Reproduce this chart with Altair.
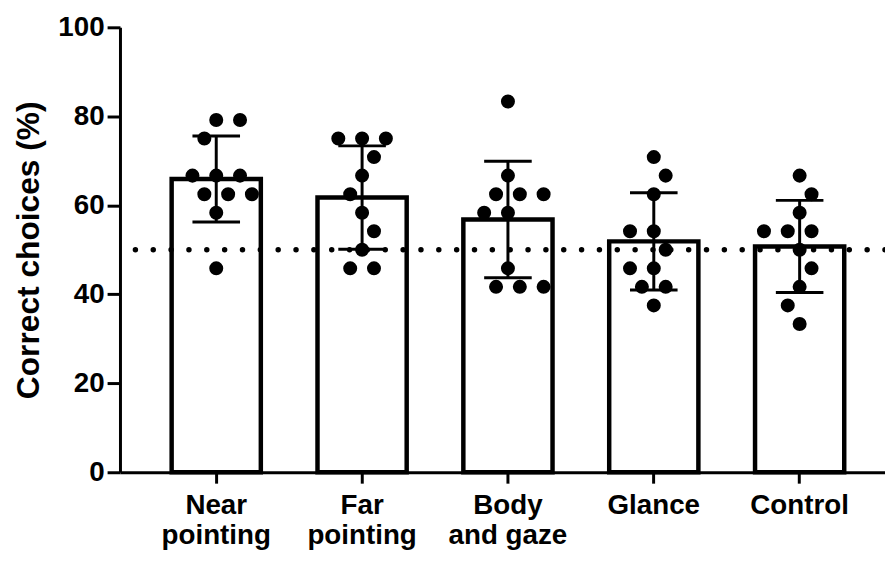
import altair as alt
import pandas as pd

# ---- data ----
conditions = ["Near pointing", "Far pointing", "Body and gaze", "Glance", "Control"]
near_pointing = [79.17, 79.17, 75.0, 66.67, 66.67, 66.67, 62.5, 62.5, 62.5, 58.33, 45.83]
far_pointing = [75.0, 75.0, 75.0, 70.83, 66.67, 62.5, 58.33, 54.17, 50.0, 45.83, 45.83]
body_and_gaze = [83.33, 66.67, 62.5, 62.5, 62.5, 58.33, 58.33, 45.83, 41.67, 41.67, 41.67]
glance = [70.83, 66.67, 62.5, 54.17, 54.17, 50.0, 45.83, 45.83, 41.67, 41.67, 37.5]
control = [66.67, 62.5, 58.33, 54.17, 54.17, 54.17, 50.0, 45.83, 41.67, 37.5, 33.33]
chance_level = [50]
y_ticks = [0, 20, 40, 60, 80, 100]

series = [near_pointing, far_pointing, body_and_gaze, glance, control]

# ---- layout constants ----
PLOT_W = 772
PLOT_H = 449
RANGE_W = 783
PAD_OUTER = 0.16
STEP = RANGE_W / (len(conditions) + 2 * PAD_OUTER)
PX_PER_UNIT = PLOT_H / 100.0
SLOT = 12      # horizontal grid of the beeswarm (px)
DIAM = 22      # minimum centre distance between points (px)


def beeswarm(vals):
    """Simple beeswarm: place each point at the nearest free horizontal slot."""
    placed = []
    offs = []
    flip = 1
    for v in vals:
        y = v * PX_PER_UNIT
        k = 0
        while True:
            cands = [0] if k == 0 else [flip * k * SLOT, -flip * k * SLOT]
            ok = None
            for c in cands:
                if all((c - px) ** 2 + (y - py) ** 2 >= DIAM ** 2 for px, py in placed):
                    ok = c
                    break
            if ok is not None:
                if ok != 0:
                    flip = -flip
                placed.append((ok, y))
                offs.append(ok)
                break
            k += 1
    return offs


rows = []
for cond, vals in zip(conditions, series):
    for v, off in zip(vals, beeswarm(vals)):
        rows.append({"cond": cond, "value": v, "off": off})
df = pd.DataFrame(rows)

FONT = "Liberation Sans"

x_enc = alt.X(
    "cond:N",
    sort=conditions,
    scale=alt.Scale(range=[0, RANGE_W], paddingInner=0, paddingOuter=PAD_OUTER, round=False),
    axis=alt.Axis(
        title=None,
        labelAngle=0,
        labelExpr="datum.label == 'Body and gaze' ? ['Body', 'and gaze'] : split(datum.label, ' ')",
        labelFont=FONT,
        labelFontSize=28,
        labelFontWeight="bold",
        labelColor="black",
        labelLineHeight=30,
        labelPadding=9,
        tickSize=11,
        tickWidth=3,
        tickColor="black",
        domainWidth=3,
        domainColor="black",
        grid=False,
    ),
)

y_axis = alt.Axis(
    title="Correct choices (%)",
    titleFont=FONT,
    titleFontSize=32,
    titleFontWeight="bold",
    titleColor="black",
    titlePadding=12,
    values=y_ticks,
    labelFont=FONT,
    labelFontSize=28,
    labelFontWeight="bold",
    labelColor="black",
    labelPadding=3,
    tickSize=13,
    tickWidth=3,
    tickColor="black",
    domainWidth=3,
    domainColor="black",
    grid=False,
)
y_scale = alt.Scale(domain=[0, 100], nice=False)

base = alt.Chart(df)

stats = base.transform_aggregate(
    mean="mean(value)", sd="stdev(value)", groupby=["cond"]
).transform_calculate(
    lo="datum.mean - datum.sd", hi="datum.mean + datum.sd"
)

bars = stats.mark_bar(fill="white", stroke="black", strokeWidth=4.5, width=90).encode(
    x=x_enc,
    y=alt.Y("mean:Q", scale=y_scale, axis=y_axis),
)

chance = alt.Chart(pd.DataFrame({"chance": chance_level})).mark_rule(
    color="black", strokeWidth=5.5, strokeDash=[0.01, 18], strokeCap="round"
).encode(y=alt.Y("chance:Q", scale=y_scale, axis=y_axis))

err_line = stats.mark_rule(color="black", strokeWidth=3).encode(
    x=x_enc,
    y=alt.Y("lo:Q", scale=y_scale, axis=y_axis),
    y2="hi:Q",
)
cap_lo = stats.mark_tick(color="black", size=48, thickness=3, opacity=1).encode(
    x=x_enc, y=alt.Y("lo:Q", scale=y_scale, axis=y_axis)
)
cap_hi = stats.mark_tick(color="black", size=48, thickness=3, opacity=1).encode(
    x=x_enc, y=alt.Y("hi:Q", scale=y_scale, axis=y_axis)
)

points = base.mark_circle(size=200, color="black", opacity=1).encode(
    x=x_enc,
    xOffset=alt.XOffset(
        "off:Q", scale=alt.Scale(domain=[-STEP / 2, STEP / 2], range=[0, STEP])
    ),
    y=alt.Y("value:Q", scale=y_scale, axis=y_axis),
)

chart = alt.layer(bars, chance, err_line, cap_lo, cap_hi, points).properties(
    width=PLOT_W,
    height=PLOT_H,
    autosize=alt.AutoSizeParams(type="none"),
    padding={"left": 113, "top": 17, "right": 0, "bottom": 81},
).configure(background="white").configure_view(stroke=None)

chart.save("out.html", embed_options={"renderer": "svg", "actions": False})
